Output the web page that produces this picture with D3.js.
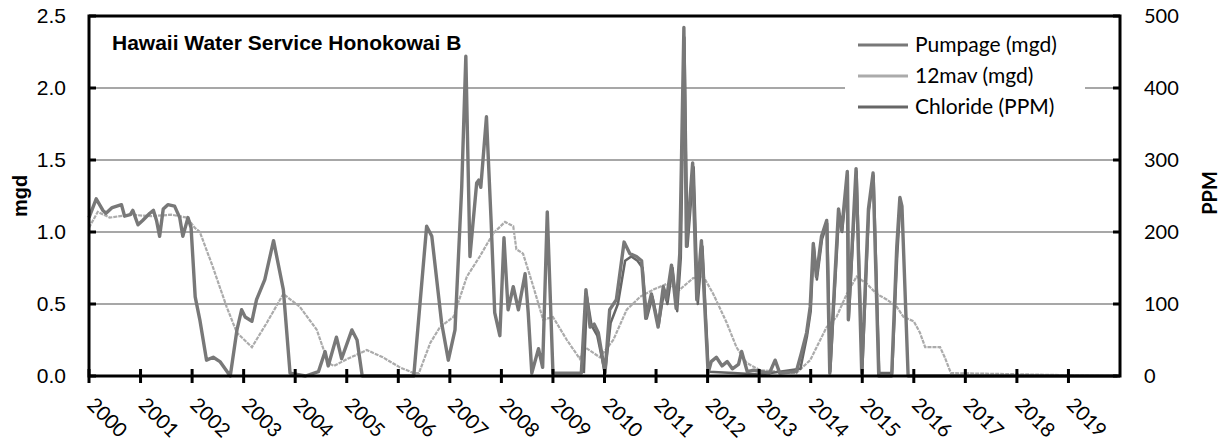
<!DOCTYPE html>
<html>
<head>
<meta charset="utf-8">
<script src="https://cdn.jsdelivr.net/npm/d3@7"></script>
<style>
  body { margin: 0; background: #fff; }
</style>
</head>
<body>
<script>
let width = 1226
let height = 444
let plotLeft = 89, plotRight = 1120, plotTop = 16, plotBottom = 376

let title = 'Hawaii Water Service Honokowai B'
let yearTicks = d3.range(2000, 2020)
let mgdTicks = [0, 0.5, 1.0, 1.5, 2.0, 2.5]
let ppmTicks = [0, 100, 200, 300, 400, 500]
let legendNames = ['Pumpage (mgd)', '12mav (mgd)', 'Chloride (PPM)']

// pumpage (mgd)
let pumpYears = [2000.00, 2000.14, 2000.27, 2000.33, 2000.45, 2000.63, 2000.69, 2000.80, 2000.85, 2000.95,
  2001.04, 2001.18, 2001.25, 2001.31, 2001.37, 2001.44, 2001.53, 2001.66, 2001.76, 2001.82, 2001.92, 2001.98,
  2002.06, 2002.15, 2002.28, 2002.41, 2002.54, 2002.74, 2002.87, 2002.96, 2003.03, 2003.16, 2003.25, 2003.41,
  2003.58, 2003.77, 2003.90, 2004.20, 2004.45, 2004.58, 2004.64, 2004.80, 2004.90, 2005.10, 2005.20, 2005.30,
  2006.30, 2006.55, 2006.65, 2006.84, 2006.97, 2007.10, 2007.23, 2007.31, 2007.39, 2007.52, 2007.56, 2007.60,
  2007.71, 2007.80, 2007.87, 2007.97, 2008.05, 2008.13, 2008.23, 2008.33, 2008.46, 2008.52, 2008.59, 2008.72,
  2008.80, 2008.89, 2009.00, 2009.55, 2009.64, 2009.72, 2009.80, 2009.88, 2010.01, 2010.10, 2010.23, 2010.38,
  2010.49, 2010.62, 2010.72, 2010.80, 2010.91, 2011.04, 2011.14, 2011.20, 2011.30, 2011.39, 2011.46, 2011.54,
  2011.59, 2011.71, 2011.79, 2011.88, 2012.01, 2012.07, 2012.17, 2012.28, 2012.38, 2012.48, 2012.60, 2012.66,
  2012.77, 2012.89, 2013.20, 2013.31, 2013.40, 2013.72, 2013.82, 2013.92, 2013.99, 2014.05, 2014.11, 2014.21,
  2014.31, 2014.37, 2014.54, 2014.60, 2014.71, 2014.73, 2014.88, 2014.99, 2015.12, 2015.21, 2015.32, 2015.57,
  2015.67, 2015.73, 2015.77, 2015.89, 2019.95]
let pumpVals = [1.10, 1.23, 1.15, 1.13, 1.17, 1.19, 1.11, 1.12, 1.15, 1.05,
  1.08, 1.13, 1.15, 1.08, 0.97, 1.16, 1.19, 1.18, 1.10, 0.97, 1.10, 1.03,
  0.55, 0.39, 0.11, 0.13, 0.10, 0.00, 0.32, 0.46, 0.41, 0.38, 0.53, 0.67,
  0.94, 0.60, 0.02, 0.00, 0.03, 0.17, 0.07, 0.27, 0.12, 0.32, 0.25, 0.00,
  0.00, 1.04, 0.97, 0.37, 0.11, 0.32, 1.31, 2.22, 0.83, 1.34, 1.36, 1.31,
  1.80, 1.08, 0.44, 0.28, 0.96, 0.46, 0.62, 0.46, 0.71, 0.44, 0.02, 0.19,
  0.06, 1.14, 0.02, 0.02, 0.60, 0.34, 0.36, 0.30, 0.02, 0.46, 0.53, 0.93,
  0.85, 0.83, 0.80, 0.40, 0.57, 0.34, 0.62, 0.53, 0.77, 0.47, 0.85, 2.42,
  0.90, 1.48, 0.53, 0.94, 0.02, 0.10, 0.13, 0.07, 0.10, 0.05, 0.08, 0.17,
  0.03, 0.04, 0.02, 0.11, 0.02, 0.03, 0.16, 0.30, 0.48, 0.92, 0.69, 0.97,
  1.08, 0.02, 1.16, 1.01, 1.42, 0.39, 1.44, 0.02, 1.16, 1.41, 0.00, 0.00,
  0.90, 1.24, 1.18, 0.00, 0.00]

// 12 month moving average (mgd)
let mavYears = [2000.00, 2000.17, 2000.40, 2000.80, 2001.20, 2001.60, 2001.90, 2002.05, 2002.15, 2002.40,
  2002.67, 2002.87, 2003.16, 2003.45, 2003.77, 2004.09, 2004.42, 2004.64, 2004.75, 2005.02, 2005.39, 2005.70,
  2006.03, 2006.30, 2006.40, 2006.62, 2006.81, 2007.07, 2007.33, 2007.58, 2007.84, 2008.07, 2008.23, 2008.29,
  2008.42, 2008.62, 2008.81, 2009.00, 2009.27, 2009.52, 2009.62, 2009.91, 2010.17, 2010.43, 2010.69, 2010.95,
  2011.21, 2011.46, 2011.72, 2011.92, 2012.11, 2012.37, 2012.56, 2012.76, 2013.02, 2013.72, 2013.99, 2014.31,
  2014.50, 2014.70, 2014.89, 2015.09, 2015.28, 2015.48, 2015.67, 2015.80, 2016.00, 2016.12, 2016.22, 2016.51,
  2016.60, 2016.72, 2019.95]
let mavVals = [1.03, 1.14, 1.10, 1.12, 1.11, 1.12, 1.10, 1.03, 1.00, 0.76,
  0.48, 0.30, 0.20, 0.37, 0.57, 0.48, 0.32, 0.09, 0.07, 0.12, 0.18, 0.13,
  0.06, 0.02, 0.02, 0.23, 0.34, 0.41, 0.69, 0.83, 0.99, 1.07, 1.04, 0.88,
  0.85, 0.62, 0.39, 0.41, 0.25, 0.12, 0.20, 0.13, 0.25, 0.46, 0.55, 0.60,
  0.64, 0.60, 0.68, 0.69, 0.57, 0.37, 0.20, 0.09, 0.04, 0.02, 0.11, 0.34,
  0.41, 0.57, 0.69, 0.64, 0.57, 0.53, 0.48, 0.41, 0.38, 0.30, 0.20, 0.20,
  0.13, 0.02, 0.00]

// chloride (PPM)
let clYears = [2009.60, 2009.66, 2009.75, 2009.86, 2010.01, 2010.12, 2010.26, 2010.40, 2010.52, 2010.64,
  2010.74, 2010.82, 2010.93, 2011.05, 2011.16, 2011.22, 2011.32, 2011.41, 2011.48, 2011.55, 2011.61, 2011.73,
  2011.81, 2011.90, 2012.02, 2012.50, 2013.00, 2013.80, 2013.93, 2014.00, 2014.06, 2014.12, 2014.22, 2014.32,
  2014.38, 2014.55, 2014.61, 2014.72, 2014.74, 2014.89, 2015.00, 2015.13, 2015.22, 2015.33, 2015.58, 2015.68,
  2015.74, 2015.77]
let clVals = [4, 110, 70, 56, 4, 74, 100, 160, 166, 160,
  150, 80, 110, 70, 120, 100, 150, 90, 164, 470, 180, 290,
  100, 180, 6, 4, 2, 10, 56, 90, 180, 134, 190, 212,
  6, 226, 200, 280, 80, 284, 6, 230, 278, 4, 4, 170,
  240, 230]

let svg = d3
  .select('body')
  .append('svg')
  .attr('width', width)
  .attr('height', height)

let scaleX = d3.scaleLinear().domain([2000, 2020]).range([plotLeft, plotRight])
let scaleY = d3.scaleLinear().domain([0, 2.5]).range([plotBottom, plotTop])
let scaleP = d3.scaleLinear().domain([0, 500]).range([plotBottom, plotTop])

// grid
svg.selectAll('.grid')
  .data(mgdTicks.slice(1, 5))
  .enter()
  .append('line')
  .attr('x1', plotLeft).attr('x2', plotRight)
  .attr('y1', d => scaleY(d)).attr('y2', d => scaleY(d))
  .attr('stroke', '#8a8a8a')
  .attr('stroke-width', 1.3)

// legend box hides the grid behind it
svg.append('rect')
  .attr('x', 845).attr('y', 22)
  .attr('width', 240).attr('height', 104)
  .attr('fill', '#fff')

// series
let line = d3.line().x(d => scaleX(d[0])).y(d => d[1])

svg.append('path')
  .attr('d', line(d3.zip(mavYears, mavVals.map(v => scaleY(v)))))
  .attr('fill', 'none')
  .attr('stroke', '#ababab')
  .attr('stroke-width', 2.2)
  .attr('stroke-dasharray', '4,1')

svg.append('path')
  .attr('d', line(d3.zip(clYears, clVals.map(v => scaleP(v)))))
  .attr('fill', 'none')
  .attr('stroke', '#666')
  .attr('stroke-width', 2.5)
  .attr('stroke-linejoin', 'round')

svg.append('path')
  .attr('d', line(d3.zip(pumpYears, pumpVals.map(v => scaleY(v)))))
  .attr('fill', 'none')
  .attr('stroke', '#787878')
  .attr('stroke-width', 3.4)
  .attr('stroke-linejoin', 'round')

// frame
svg.append('rect')
  .attr('x', plotLeft).attr('y', plotTop)
  .attr('width', plotRight - plotLeft).attr('height', plotBottom - plotTop)
  .attr('fill', 'none')
  .attr('stroke', '#000')
  .attr('stroke-width', 3)

// left ticks + labels
svg.selectAll('.lt')
  .data(mgdTicks)
  .enter()
  .append('line')
  .attr('x1', plotLeft).attr('x2', plotLeft + 7)
  .attr('y1', d => scaleY(d)).attr('y2', d => scaleY(d))
  .attr('stroke', '#000')
  .attr('stroke-width', 3)

svg.selectAll('.ll')
  .data(mgdTicks)
  .enter()
  .append('text')
  .attr('x', 66)
  .attr('y', d => scaleY(d) + 7)
  .attr('text-anchor', 'end')
  .attr('font-family', 'Liberation Sans, Arial, sans-serif')
  .attr('font-size', 21)
  .text(d => d.toFixed(1))

// right ticks + labels
svg.selectAll('.rt')
  .data(ppmTicks)
  .enter()
  .append('line')
  .attr('x1', plotRight - 7).attr('x2', plotRight)
  .attr('y1', d => scaleP(d)).attr('y2', d => scaleP(d))
  .attr('stroke', '#000')
  .attr('stroke-width', 3)

svg.selectAll('.rl')
  .data(ppmTicks)
  .enter()
  .append('text')
  .attr('x', 1144)
  .attr('y', d => scaleP(d) + 7)
  .attr('font-family', 'Lato, sans-serif')
  .attr('font-size', 20)
  .text(d => d)

// x ticks + labels
svg.selectAll('.xt')
  .data(yearTicks)
  .enter()
  .append('line')
  .attr('x1', d => scaleX(d)).attr('x2', d => scaleX(d))
  .attr('y1', plotBottom - 7).attr('y2', plotBottom + 7)
  .attr('stroke', '#000')
  .attr('stroke-width', 3)

svg.selectAll('.xl')
  .data(yearTicks)
  .enter()
  .append('text')
  .attr('transform', d => 'translate(' + (scaleX(d) - 3) + ',406) rotate(45)')
  .attr('font-family', 'Lato, sans-serif')
  .attr('font-size', 20)
  .text(d => d)

// axis titles
svg.append('text')
  .attr('transform', 'translate(27,196) rotate(-90)')
  .attr('text-anchor', 'middle')
  .attr('font-family', 'Liberation Sans, Arial, sans-serif')
  .attr('font-weight', 'bold')
  .attr('font-size', 20)
  .text('mgd')

svg.append('text')
  .attr('transform', 'translate(1217,193) rotate(-90)')
  .attr('text-anchor', 'middle')
  .attr('font-family', 'Lato, sans-serif')
  .attr('font-weight', 'bold')
  .attr('font-size', 20)
  .text('PPM')

// title
svg.append('text')
  .attr('x', 112)
  .attr('y', 50)
  .attr('font-family', 'Liberation Sans, Arial, sans-serif')
  .attr('font-weight', 'bold')
  .attr('font-size', 21)
  .text(title)

// legend
let legendColors = ['#787878', '#ababab', '#666']
let legend = svg.selectAll('.lg')
  .data(legendNames)
  .enter()
  .append('g')
  .attr('transform', (d, i) => 'translate(858,' + (45 + i * 31) + ')')

legend.append('line')
  .attr('x1', 0).attr('x2', 50)
  .attr('stroke', (d, i) => legendColors[i])
  .attr('stroke-width', 3)

legend.append('text')
  .attr('x', 57)
  .attr('y', 7)
  .attr('font-family', 'Lato, sans-serif')
  .attr('font-size', 21)
  .text(d => d)
</script>
</body>
</html>
